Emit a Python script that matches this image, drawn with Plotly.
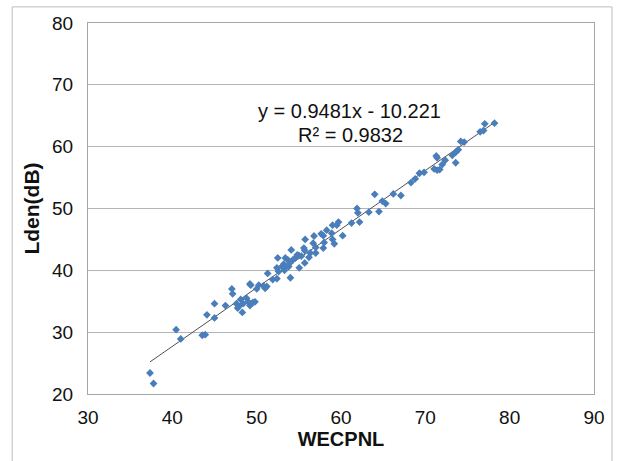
import plotly.graph_objects as go

wecpnl = [37.35, 37.77, 40.45, 41.0, 43.55, 43.9, 44.1, 45.0, 45.0, 46.3,
          47.06, 47.15, 47.6, 47.75, 47.9, 48.1, 48.3, 48.4, 48.8, 49.0,
          49.2, 49.3, 49.2, 49.55, 49.8, 50.0, 50.25, 50.8, 51.0, 51.2,
          51.3, 51.9, 52.4, 52.4, 52.5, 52.6, 53.0, 53.2, 53.3, 53.4,
          53.5, 53.7, 53.8, 53.95, 54.0, 54.1, 54.3, 54.6, 54.8, 55.0,
          55.05, 55.3, 55.6, 55.7, 55.7, 55.75, 56.2, 56.35, 56.7, 56.8,
          57.0, 57.0, 57.65, 57.9, 57.9, 58.0, 58.3, 58.9, 59.0, 59.0,
          59.2, 59.5, 59.7, 60.2, 61.25, 61.9, 62.0, 62.2, 63.3, 64.0,
          64.5, 64.9, 65.3, 66.2, 67.1, 68.3, 68.8, 69.3, 69.85, 71.05,
          71.3, 71.4, 71.4, 71.7, 72.0, 72.35, 73.2, 73.6, 73.6, 73.9,
          74.2, 74.6, 76.5, 76.9, 77.05, 78.2]
lden = [23.4, 21.7, 30.4, 28.9, 29.5, 29.6, 32.8, 34.6, 32.3, 34.3,
        37.0, 36.2, 34.6, 33.9, 34.2, 35.3, 33.2, 34.6, 35.5, 34.9,
        37.8, 37.6, 34.3, 34.8, 34.9, 37.0, 37.6, 37.5, 37.1, 37.4,
        39.5, 38.5, 38.65, 40.4, 42.0, 39.8, 40.6, 41.0, 40.0, 42.0,
        40.6, 41.7, 40.6, 41.2, 38.8, 43.3, 41.7, 42.0, 42.5, 42.4,
        40.4, 42.3, 43.6, 43.2, 41.2, 45.0, 42.1, 42.8, 44.4, 45.55,
        42.8, 43.7, 45.9, 43.6, 45.6, 44.5, 46.5, 46.0, 47.3, 45.0,
        44.3, 47.3, 47.8, 45.6, 47.65, 50.0, 49.3, 47.8, 49.4, 52.3,
        49.5, 51.2, 50.8, 52.35, 52.1, 54.2, 54.8, 55.7, 55.85, 56.4,
        58.5, 58.2, 56.2, 56.3, 57.1, 57.8, 58.6, 57.4, 59.1, 59.5,
        60.85, 60.75, 62.4, 62.6, 63.7, 63.8]

slope = 0.9481
intercept = -10.221
r2 = 0.9832

x_ticks = [30, 40, 50, 60, 70, 80, 90]
y_ticks = [20, 30, 40, 50, 60, 70, 80]

trend_x = [min(wecpnl), max(wecpnl)]
trend_y = [slope * v + intercept for v in trend_x]

fig = go.Figure()
fig.add_trace(go.Scatter(
    x=trend_x, y=trend_y, mode="lines",
    line=dict(color="#505050", width=1), hoverinfo="skip", showlegend=False))
fig.add_trace(go.Scatter(
    x=wecpnl, y=lden, mode="markers",
    marker=dict(symbol="diamond", size=6, color="#4A7EBB", line=dict(width=0)),
    showlegend=False))

font_family = "Liberation Sans, Arial, sans-serif"

fig.add_annotation(x=61.06, y=65.7, xref="x", yref="y",
                   text=f"y = {slope}x - {abs(intercept)}", showarrow=False,
                   font=dict(family=font_family, size=20, color="#111"))
fig.add_annotation(x=61.1, y=61.9, xref="x", yref="y",
                   text=f"R² = {r2}", showarrow=False,
                   font=dict(family=font_family, size=20, color="#111"))

# chart area border (outer frame)
fig.add_shape(type="rect", xref="paper", yref="paper",
              x0=-0.1498, x1=1.0355, y0=-0.25, y1=1.0435,
              line=dict(color="#BDBDBD", width=1), layer="above")

fig.update_layout(
    width=617, height=461,
    margin=dict(l=88, r=19, t=23, b=67),
    paper_bgcolor="white", plot_bgcolor="white",
    font=dict(family=font_family, color="#111"),
    xaxis=dict(range=[30, 90], tickvals=x_ticks, showgrid=False,
               zeroline=False, showline=True, linecolor="#A6A6A6", linewidth=1,
               mirror=True, ticks="outside", ticklen=6, tickcolor="rgba(0,0,0,0)",
               tickfont=dict(size=19),
               title=dict(text="<b>WECPNL</b>", font=dict(size=20), standoff=4)),
    yaxis=dict(range=[20, 80], tickvals=y_ticks, showgrid=True,
               gridcolor="#B4B4B4", gridwidth=1,
               zeroline=False, showline=True, linecolor="#A6A6A6", linewidth=1,
               mirror=True, ticks="outside", ticklen=10, tickcolor="rgba(0,0,0,0)",
               tickfont=dict(size=19),
               title=dict(text="<b>Lden(dB)</b>", font=dict(size=21), standoff=6)),
)

fig.write_html("out.html", config={"displayModeBar": False},
               post_script="document.body.style.margin='0';")
